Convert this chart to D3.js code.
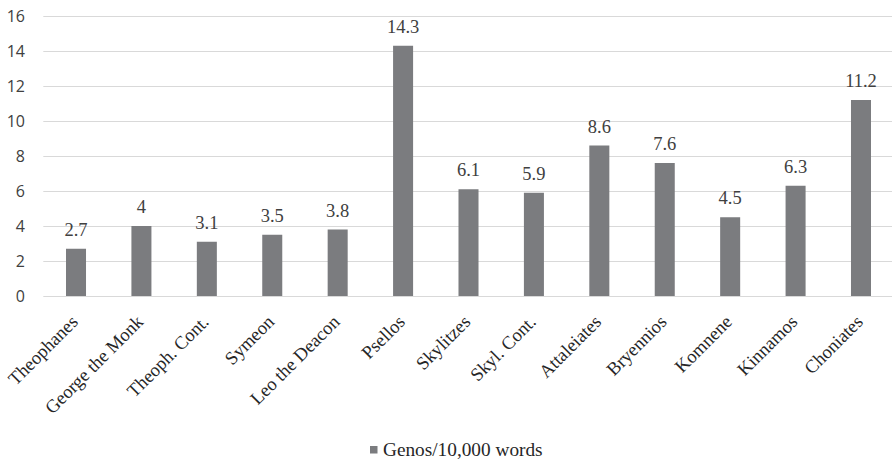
<!DOCTYPE html>
<html>
<head>
<meta charset="utf-8">
<script src="https://cdn.jsdelivr.net/npm/d3@7"></script>
<style>
  html, body { margin: 0; padding: 0; background: #fff; }
  svg { display: block; }
</style>
</head>
<body>
<svg id="chart" width="892" height="462"></svg>
<script>
// Genos occurrences per 10,000 words, by historian
const authors = ["Theophanes", "George the Monk", "Theoph. Cont.", "Symeon", "Leo the Deacon",
  "Psellos", "Skylitzes", "Skyl. Cont.", "Attaleiates", "Bryennios", "Komnene", "Kinnamos", "Choniates"];
const genosRate = [2.7, 4, 3.1, 3.5, 3.8, 14.3, 6.1, 5.9, 8.6, 7.6, 4.5, 6.3, 11.2];
const yTicks = [0, 2, 4, 6, 8, 10, 12, 14, 16];
const seriesName = "Genos/10,000 words";

const svg = d3.select("#chart");
const plotLeft = 43.3, plotRight = 893.7, plotTop = 16, plotBottom = 296;
const serif = "'Liberation Serif', 'Times New Roman', serif";

const x = d3.scaleBand().domain(authors).range([plotLeft, plotRight]).paddingInner(0.694).paddingOuter(0.347);
const y = d3.scaleLinear().domain([0, 16]).range([plotBottom, plotTop]);

// horizontal gridlines
svg.append("g").selectAll("line").data(yTicks).join("line")
  .attr("x1", plotLeft).attr("x2", plotRight)
  .attr("y1", d => Math.round(y(d)) + 0.5).attr("y2", d => Math.round(y(d)) + 0.5)
  .attr("stroke", "#d9d9d9").attr("stroke-width", 1);

// y axis labels
svg.append("g").selectAll("text").data(yTicks).join("text")
  .attr("x", 25).attr("y", d => y(d)).attr("dy", "0.36em")
  .attr("text-anchor", "end")
  .attr("font-family", "'Open Sans', 'DejaVu Sans', sans-serif").attr("font-size", 16)
  .attr("fill", "#404040")
  .text(d => d);

// bars
svg.append("g").selectAll("rect").data(authors).join("rect")
  .attr("x", d => x(d)).attr("width", x.bandwidth())
  .attr("y", (d, i) => y(genosRate[i])).attr("height", (d, i) => y(0) - y(genosRate[i]))
  .attr("fill", "#7b7c7f");

// value labels
svg.append("g").selectAll("text").data(authors).join("text")
  .attr("x", d => x(d) + x.bandwidth() / 2)
  .attr("y", (d, i) => y(genosRate[i]) - 13)
  .attr("text-anchor", "middle")
  .attr("font-family", serif).attr("font-size", 18.5)
  .attr("fill", "#404040")
  .text((d, i) => genosRate[i]);

// category labels, rotated
svg.append("g").selectAll("text").data(authors).join("text")
  .attr("transform", d => `translate(${x(d) + x.bandwidth() / 2 + 3},${plotBottom + 27}) rotate(-45)`)
  .attr("text-anchor", "end")
  .attr("font-family", serif).attr("font-size", 18.5)
  .attr("fill", "#262626")
  .text(d => d);

// legend
const legend = svg.append("g");
legend.append("rect").attr("x", 370).attr("y", 446).attr("width", 7.5).attr("height", 7.5).attr("fill", "#7b7c7f");
legend.append("text").attr("x", 383).attr("y", 456)
  .attr("font-family", serif).attr("font-size", 19.3)
  .attr("fill", "#262626")
  .text(seriesName);
</script>
</body>
</html>
